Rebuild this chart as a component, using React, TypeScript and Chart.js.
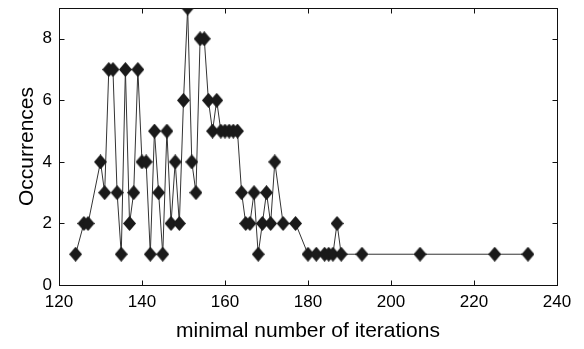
import React, { useEffect, useRef } from 'react';
import { Chart, registerables } from 'chart.js';

Chart.register(...registerables);

const iterations = [124, 126, 127, 130, 131, 132, 133, 134, 135, 136, 137, 138, 139, 140, 141, 142, 143, 144, 145, 146, 147, 148, 149, 150, 151, 152, 153, 154, 155, 156, 157, 158, 159, 160, 161, 162, 163, 164, 165, 166, 167, 168, 169, 170, 171, 172, 174, 177, 180, 182, 184, 185, 186, 187, 188, 193, 207, 225, 233];
const occurrences = [1, 2, 2, 4, 3, 7, 7, 3, 1, 7, 2, 3, 7, 4, 4, 1, 5, 3, 1, 5, 2, 4, 2, 6, 9, 4, 3, 8, 8, 6, 5, 6, 5, 5, 5, 5, 5, 3, 2, 2, 3, 1, 2, 3, 2, 4, 2, 2, 1, 1, 1, 1, 1, 2, 1, 1, 1, 1, 1];
const xTicks = [120, 140, 160, 180, 200, 220, 240];
const yTicks = [0, 2, 4, 6, 8];
const xLabel = 'minimal number of iterations';
const yLabel = 'Occurrences';

const FONT = "'Liberation Sans', Arial, Helvetica, sans-serif";

function makeDiamond(w: number, h: number, color: string): HTMLCanvasElement {
  const c = document.createElement('canvas');
  c.width = w;
  c.height = h;
  const ctx = c.getContext('2d')!;
  ctx.fillStyle = color;
  ctx.beginPath();
  ctx.moveTo(w / 2, 0);
  ctx.lineTo(w, h / 2);
  ctx.lineTo(w / 2, h);
  ctx.lineTo(0, h / 2);
  ctx.closePath();
  ctx.fill();
  return c;
}

const boxPlugin = {
  id: 'matlabBox',
  beforeDatasetsDraw(chart: any) {
    const { ctx, chartArea, scales } = chart;
    const l = Math.round(chartArea.left) + 0.5;
    const r = Math.round(chartArea.right) + 0.5;
    const t = Math.round(chartArea.top) + 0.5;
    const b = Math.round(chartArea.bottom) + 0.5;
    ctx.save();
    ctx.strokeStyle = '#111';
    ctx.lineWidth = 1;
    ctx.strokeRect(l, t, r - l, b - t);
    ctx.beginPath();
    xTicks.forEach((v) => {
      const px = Math.round(scales.x.getPixelForValue(v)) + 0.5;
      ctx.moveTo(px, b);
      ctx.lineTo(px, b - 5);
      ctx.moveTo(px, t);
      ctx.lineTo(px, t + 5);
    });
    yTicks.forEach((v) => {
      const py = Math.round(scales.y.getPixelForValue(v)) + 0.5;
      ctx.moveTo(l, py);
      ctx.lineTo(l + 5, py);
      ctx.moveTo(r, py);
      ctx.lineTo(r - 5, py);
    });
    ctx.stroke();
    ctx.restore();
  },
};

export default function App() {
  const ref = useRef<HTMLCanvasElement>(null);

  useEffect(() => {
    if (!ref.current) return;
    const diamond = makeDiamond(13, 15, '#1a1a1a');
    const chart = new Chart(ref.current, {
      type: 'scatter',
      data: {
        datasets: [
          {
            data: iterations.map((x, i) => ({ x, y: occurrences[i] })),
            showLine: true,
            borderColor: '#333',
            borderWidth: 1,
            pointStyle: diamond as any,
            pointRadius: 7,
            backgroundColor: '#1a1a1a',
          },
        ],
      },
      options: {
        animation: false,
        responsive: false,
        devicePixelRatio: 1,
        layout: { padding: { left: 0, right: 27, top: 4, bottom: 0 } },
        plugins: { legend: { display: false }, tooltip: { enabled: false } },
        scales: {
          x: {
            type: 'linear',
            min: 120,
            max: 240,
            afterBuildTicks: (s: any) => {
              s.ticks = xTicks.map((v) => ({ value: v }));
            },
            afterFit: (s: any) => {
              s.height = 64;
              s.paddingLeft = 0;
              s.paddingRight = 0;
            },
            grid: { display: false, drawTicks: false },
            border: { display: false },
            ticks: {
              color: '#000',
              padding: 7,
              maxRotation: 0,
              font: { family: FONT, size: 17 },
            },
            title: {
              display: true,
              text: xLabel,
              color: '#000',
              font: { family: FONT, size: 21 },
              padding: { top: 0, bottom: 5 },
            },
          },
          y: {
            type: 'linear',
            min: 0,
            max: 9,
            afterBuildTicks: (s: any) => {
              s.ticks = yTicks.map((v) => ({ value: v }));
            },
            afterFit: (s: any) => {
              s.width = 59;
              s.paddingTop = 0;
              s.paddingBottom = 0;
            },
            grid: { display: false, drawTicks: false },
            border: { display: false },
            ticks: {
              color: '#000',
              padding: 7,
              font: { family: FONT, size: 17 },
            },
            title: {
              display: true,
              text: yLabel,
              color: '#000',
              font: { family: FONT, size: 21 },
              padding: { top: 15, bottom: 0 },
            },
          },
        },
      },
      plugins: [boxPlugin],
    });
    return () => chart.destroy();
  }, []);

  return (
    <div style={{ position: 'absolute', left: 0, top: 0, width: 584, height: 349, background: '#fff' }}>
      <canvas ref={ref} width={584} height={349} />
    </div>
  );
}
